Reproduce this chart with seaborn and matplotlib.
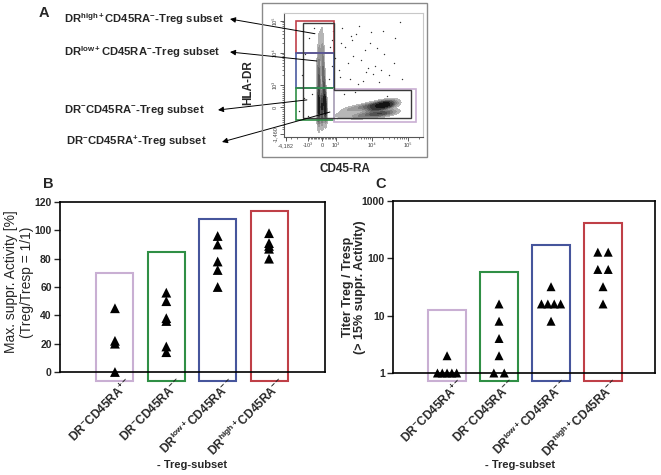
import numpy as np
import pandas as pd
import matplotlib
matplotlib.use("Agg")
import matplotlib.pyplot as plt
import matplotlib.transforms as mtransforms
from matplotlib.patches import Rectangle, Polygon
import seaborn as sns
from collections import Counter

sns.set_style("white")
plt.rcParams["font.family"] = ["Liberation Sans", "DejaVu Sans"]
plt.rcParams["mathtext.fontset"] = "custom"
plt.rcParams["mathtext.rm"] = "Liberation Sans:bold"
plt.rcParams["mathtext.bf"] = "Liberation Sans:bold"
plt.rcParams["mathtext.it"] = "Liberation Sans:bold"
plt.rcParams["mathtext.default"] = "rm"

W, H = 661, 475

# ---------------- data ----------------
subsets = ["DR$^{-}$CD45RA$^{+-}$", "DR$^{-}$CD45RA$^{--}$",
           "DR$^{low+}$CD45RA$^{--}$", "DR$^{high+}$CD45RA$^{--}$"]
box_colors = ["#c9afd3", "#2f8f45", "#46559c", "#bf3f47"]

# panel B: max suppressive activity (%)
suppr_purple = [45, 22, 20, 0]
suppr_green = [56, 50, 38, 36, 18, 14]
suppr_blue = [96, 90, 78, 72, 60]
suppr_red = [98, 91, 89, 87, 80]
suppr_box_top = [70, 85, 108, 114]

# panel C: titer Treg/Tresp
titer_purple = [2, 1, 1, 1, 1, 1]
titer_green = [16, 8, 4, 2, 1, 1]
titer_blue = [32, 16, 16, 16, 16, 8]
titer_red = [128, 128, 64, 64, 32, 16]
titer_box_top = [12.6, 58, 170, 415]

# panel A: flow gates (raw fluorescence units)
gate_x0 = [-2140, -2140, -2140, 850]
gate_x1 = [850, 850, 850, 165000]
gate_y0 = [10000, 860, -600, -680]
gate_y1 = [100000, 10000, 860, 820]
gate_colors = ["#c0404a", "#4a5aa0", "#2f8f45", "#c9afd3"]
cd4_gate_x = [-1380, -1380, 850, 850, 120000, 120000]
cd4_gate_y = [-500, 86000, 86000, 770, 770, -500]

# CD45RA- population (vertical cloud)
ra_neg_x = [-250, 0, 250, -200, 200, 0, -250, 150, -200, 100, -250, 50, -200, 50, -150, 0]
ra_neg_y = [-450, -300, -150, 0, 150, 300, 550, 800, 1300, 2000, 3000, 5000, 8000, 13000, 22000, 40000]
ra_neg_w = [5, 7, 8, 8, 8, 7, 6, 5.5, 5, 4.5, 4, 3.5, 3, 2.5, 2, 1.2]
# CD45RA+ population (horizontal cloud)
ra_pos_x = [1500, 2500, 4000, 6000, 9000, 13000, 18000, 25000, 33000, 11000, 21000, 29000]
ra_pos_y = [-350, -100, -400, 0, -350, 100, -300, 200, -250, -100, 0, 100]
ra_pos_w = [1.2, 1.5, 2, 2.5, 3, 3.5, 3.5, 3.5, 2, 3, 3.5, 3]
# scattered single events
sparse_x = [1200, 1800, 2500, 3500, 5000, 7000, 9000, 12000, 16000, 22000, 30000, 45000, 70000, 1500,
            2200, 4000, 6500, 11000, 20000, 3000, 8000, 14000, 40000, 1300, 2800, 60000, 5500, 18000,
            -1500, -1200, -900, 700, 600, 800, -700, -1800, 500, -600, 900, -1000, 700, -1300,
            1100, 1400, 1700, 2600, 3300, 4500, 9500, 26000]
sparse_y = [3000, 15000, 1500, 40000, 6000, 2500, 20000, 4000, 1200, 9000, 2000, 30000, 1500, 60000,
            5000, 1100, 12000, 2200, 50000, 8000, 3500, 14000, 5000, 1800, 25000, 90000, 1300, 3000,
            2000, 9000, 30000, 4000, 15000, 50000, 600, -200, 1500, 60000, 7000, -400, 25000, 400,
            -500, 20000, 600, 35000, 700, 70000, 45000, 500]

x_tick_vals = [-4182, -1000, 0, 1000, 10000, 100000]
x_tick_text = ["-4,182", "-10³", "0", "10³", "10⁴", "10⁵"]
y_tick_vals = [-1460, 0, 1000, 10000, 100000]
y_tick_text = ["-1,460", "0", "10³", "10⁴", "10⁵"]

arrow_labels = ["DR$^{high+}$CD45RA$^{-}$-Treg subset", "DR$^{low+}$CD45RA$^{-}$-Treg subset",
                "DR$^{-}$CD45RA$^{-}$-Treg subset", "DR$^{-}$CD45RA$^{+}$-Treg subset"]
arrow_src_x = [-500, -360, -1070, 570]
arrow_src_y = [40000, 5600, 320, -230]

LIN_X, LIN_Y = 0.39, 0.69


def biex(v, lin):
    v = np.asarray(v, float)
    a = np.abs(v)
    return np.sign(v) * np.where(a < 1000, lin * a / 1000, lin + np.log10(np.maximum(a, 1000) / 1000))


def px(x, y):
    return x / W, 1 - y / H


fig = plt.figure(figsize=(W / 100, H / 100), dpi=100)

# ---------------- panel A ----------------
fig.patches.append(Rectangle(px(262, 157), 165 / W, 154 / H, transform=fig.transFigure,
                             fill=False, ec="#8a8a8a", lw=1))
ax_f = fig.add_axes([284 / W, 1 - 137 / H, 139 / W, 124 / H])
ax_f.set_xlim(-1.056, 2.81)
ax_f.set_ylim(-0.94, 2.94)

dots = sns.blend_palette(["#c4c4c4", "#555555", "#000000"], as_cmap=True)
sns.kdeplot(x=biex(ra_neg_x, LIN_X), y=biex(ra_neg_y, LIN_Y), weights=ra_neg_w, fill=True,
            cmap=dots, levels=8, thresh=0.04, bw_adjust=0.6, ax=ax_f)
sns.kdeplot(x=biex(ra_pos_x, LIN_X), y=biex(ra_pos_y, LIN_Y), weights=ra_pos_w, fill=True,
            cmap=dots, levels=8, thresh=0.06, bw_adjust=0.75, ax=ax_f)
ax_f.scatter(biex(sparse_x, LIN_X), biex(sparse_y, LIN_Y), s=1.0, color="#333333", lw=0)

for x0, x1, y0, y1, c in zip(gate_x0, gate_x1, gate_y0, gate_y1, gate_colors):
    bx0, bx1 = biex(x0, LIN_X), biex(x1, LIN_X)
    by0, by1 = biex(y0, LIN_Y), biex(y1, LIN_Y)
    ax_f.add_patch(Rectangle((bx0, by0), bx1 - bx0, by1 - by0, fill=False, ec=c, lw=1.2, zorder=5))
ax_f.add_patch(Polygon(np.column_stack([biex(cd4_gate_x, LIN_X), biex(cd4_gate_y, LIN_Y)]),
                       closed=True, fill=False, ec="#3a3a3a", lw=1, zorder=6))

ax_f.set_xticks(biex(x_tick_vals, LIN_X))
ax_f.set_xticklabels(x_tick_text)
ax_f.set_yticks(biex(y_tick_vals, LIN_Y))
ax_f.set_yticklabels(y_tick_text, rotation=90, va="center")
minor = [m * 10 ** k for k in (2, 3, 4) for m in range(1, 10)] + [2e5]
ax_f.set_xticks(biex([v for v in minor + [-v for v in minor] if -4182 < v < 2.6e5], LIN_X), minor=True)
ax_f.set_yticks(biex([v for v in minor + [-v for v in minor] if -1800 < v < 1.78e5], LIN_Y), minor=True)
ax_f.tick_params(which="major", labelsize=4, length=3, width=0.6, pad=1.5, colors="#444444")
ax_f.tick_params(which="minor", length=1.6, width=0.5, colors="#444444")
ax_f.tick_params(left=True, bottom=True, which="both")
ax_f.set_xlabel("")
ax_f.set_ylabel("")
for s in ["top", "right"]:
    ax_f.spines[s].set_color("#c8c8c8")
for s in ["left", "bottom"]:
    ax_f.spines[s].set_color("#555555")
for s in ax_f.spines.values():
    s.set_linewidth(0.8)

fig.text(*px(248, 83), "HLA-DR", rotation=90, ha="center", va="center", fontsize=8.5, fontweight="bold")
fig.text(*px(345, 169), "CD45-RA", ha="center", va="center", fontsize=8.5, fontweight="bold")
fig.text(*px(44, 13), "A", ha="center", va="center", fontsize=10.5, fontweight="bold")

label_y = [19, 52, 110, 141]
label_x = [64, 64, 64, 66]
head_x = [230, 230, 218, 222]
head_y = [19, 52, 110, 142]
for lab, lx, ly, hx, hy, sx, sy in zip(arrow_labels, label_x, label_y, head_x, head_y,
                                       arrow_src_x, arrow_src_y):
    fig.text(*px(lx, ly), lab, ha="left", va="center", fontsize=8.1, fontweight="bold")
    ax_f.annotate("", xy=px(hx, hy), xycoords="figure fraction",
                  xytext=(biex(sx, LIN_X), biex(sy, LIN_Y)), textcoords="data",
                  arrowprops=dict(arrowstyle="-|>", color="black", lw=0.7, mutation_scale=8,
                                  shrinkA=0, shrinkB=0), zorder=10)


# ---------------- panels B and C ----------------
def dodge(values, pair_step=0.2, span=0.37):
    counts = Counter(values)
    seen = {}
    out = []
    for v in values:
        k = counts[v]
        j = seen.get(v, 0)
        seen[v] = j + 1
        step = min(pair_step, span / (k - 1)) if k > 1 else 0
        out.append((j - (k - 1) / 2) * step)
    return out


def style_panel(ax):
    for s in ax.spines.values():
        s.set_color("black")
        s.set_linewidth(1.2)
    ax.tick_params(axis="y", which="major", direction="out", length=4, width=1, labelsize=7.5, pad=2,
                   left=True)
    ax.tick_params(axis="y", which="minor", left=False)
    ax.tick_params(axis="x", length=0, labelbottom=False)
    for t in ax.get_yticklabels():
        t.set_fontweight("bold")
    ax.set_xlabel("")
    ax.set_ylabel("")
    offset = mtransforms.ScaledTranslation(0.15, -0.085, fig.dpi_scale_trans)
    for i, lab in enumerate(subsets):
        ax.text(i, 0, lab, transform=ax.get_xaxis_transform() + offset, rotation=45,
                ha="right", va="center", rotation_mode="anchor", fontsize=8.6, fontweight="bold")


# B
b_groups = [suppr_purple, suppr_green, suppr_blue, suppr_red]
df_b = pd.DataFrame({"pos": [i for i, g in enumerate(b_groups) for _ in g],
                     "value": [v for g in b_groups for v in g]})
ax_b = fig.add_axes([60 / W, 1 - 372 / H, 265 / W, 170 / H])
for i, (top, c) in enumerate(zip(suppr_box_top, box_colors)):
    ax_b.add_patch(Rectangle((i - 0.36, -6.5), 0.72, top + 6.5, fill=False, ec=c, lw=1.5, clip_on=False))
sns.scatterplot(data=df_b, x="pos", y="value", marker="^", color="black", s=50, edgecolor="none",
                legend=False, ax=ax_b)
ax_b.collections[-1].set_clip_on(False)
ax_b.set_xlim(-1.07, 4.09)
ax_b.set_ylim(0, 120)
ax_b.set_yticks(range(0, 121, 20))
style_panel(ax_b)
fig.text(*px(19, 282), "Max. suppr. Activity [%]\n(Treg/Tresp = 1/1)", rotation=90, ha="center",
         va="center", fontsize=10, linespacing=1.1)
fig.text(*px(192, 465), "- Treg-subset", ha="center", va="center", fontsize=8, fontweight="bold")
fig.text(*px(48, 184), "B", ha="center", va="center", fontsize=10.5, fontweight="bold")

# C
c_groups = [titer_purple, titer_green, titer_blue, titer_red]
df_c = pd.DataFrame({"pos": [i + d for i, g in enumerate(c_groups) for d in dodge(g)],
                     "value": [v for g in c_groups for v in g]})
ax_c = fig.add_axes([393 / W, 1 - 373 / H, 262 / W, 172 / H])
ax_c.set_yscale("log")
for i, (top, c) in enumerate(zip(titer_box_top, box_colors)):
    ax_c.add_patch(Rectangle((i - 0.36, 0.72), 0.72, top - 0.72, fill=False, ec=c, lw=1.5, clip_on=False))
sns.scatterplot(data=df_c, x="pos", y="value", marker="^", color="black", s=42, edgecolor="none",
                legend=False, ax=ax_c)
ax_c.collections[-1].set_clip_on(False)
ax_c.set_xlim(-1.04, 4.0)
ax_c.set_ylim(1, 1000)
ax_c.set_yticks([1, 10, 100, 1000])
ax_c.set_yticklabels(["1", "10", "100", "1000"])
style_panel(ax_c)
fig.text(*px(354, 287), "Titer Treg / Tresp\n(> 15% suppr. Activity)", rotation=90, ha="center",
         va="center", fontsize=9, fontweight="bold", linespacing=1.1)
fig.text(*px(520, 465), "- Treg-subset", ha="center", va="center", fontsize=8, fontweight="bold")
fig.text(*px(381, 184), "C", ha="center", va="center", fontsize=10.5, fontweight="bold")

fig.savefig("out.png", dpi=100)
